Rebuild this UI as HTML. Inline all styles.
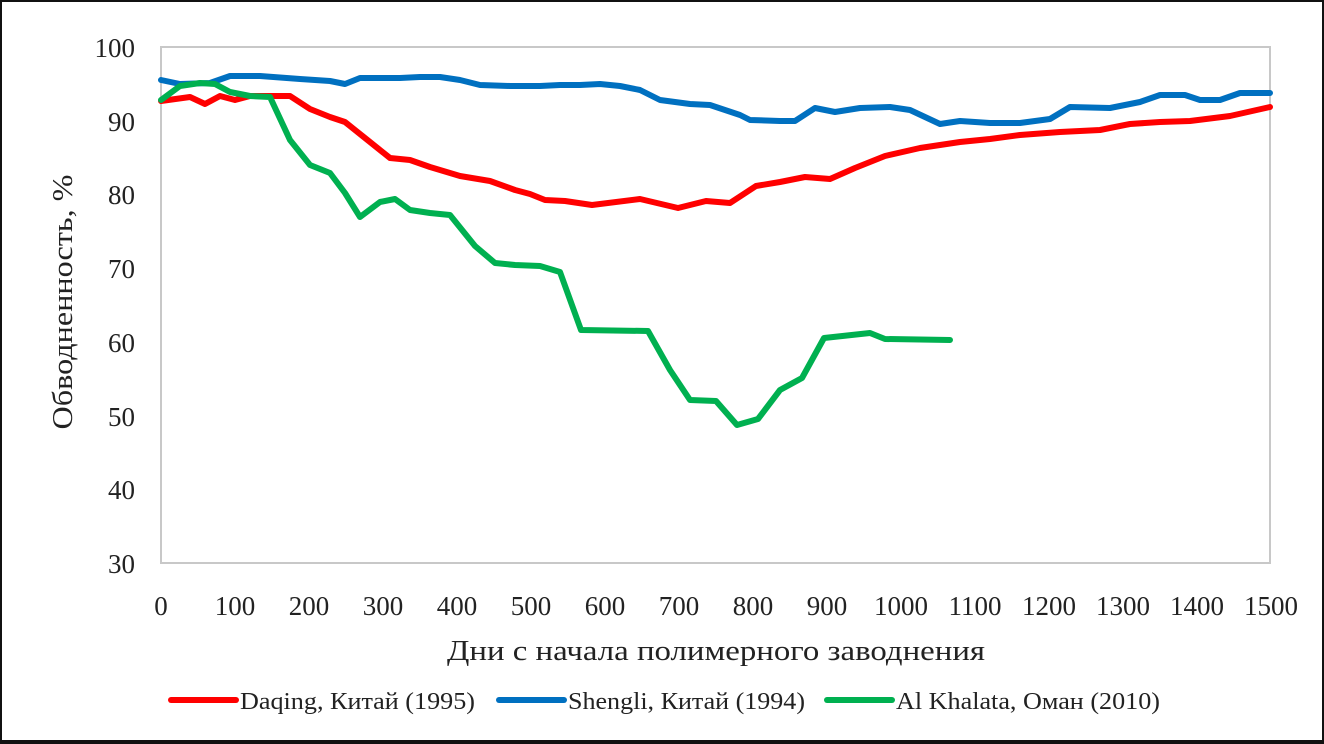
<!DOCTYPE html>
<html><head><meta charset="utf-8"><style>
html,body{margin:0;padding:0;background:#fff}
svg{display:block}
text{font-family:"Liberation Serif",serif;fill:#222}
</style></head><body>
<svg width="1324" height="744" viewBox="0 0 1324 744" xmlns="http://www.w3.org/2000/svg">
<rect x="1" y="1" width="1322" height="741" fill="#fff" stroke="#111" stroke-width="2"/>
<line x1="0" y1="742" x2="1324" y2="742" stroke="#111" stroke-width="4"/>
<rect x="161" y="47" width="1109" height="516" fill="none" stroke="#c8c8c8" stroke-width="2"/>
<g font-size="27" text-anchor="end">
<text x="135" y="57">100</text><text x="135" y="131">90</text><text x="135" y="204">80</text>
<text x="135" y="278">70</text><text x="135" y="352">60</text><text x="135" y="426">50</text>
<text x="135" y="499">40</text><text x="135" y="573">30</text>
</g>
<g font-size="27" text-anchor="middle">
<text x="161" y="615">0</text><text x="235" y="615">100</text><text x="309" y="615">200</text>
<text x="383" y="615">300</text><text x="457" y="615">400</text><text x="531" y="615">500</text>
<text x="605" y="615">600</text><text x="679" y="615">700</text><text x="753" y="615">800</text>
<text x="827" y="615">900</text><text x="901" y="615">1000</text><text x="975" y="615">1100</text>
<text x="1049" y="615">1200</text><text x="1123" y="615">1300</text><text x="1197" y="615">1400</text>
<text x="1271" y="615">1500</text>
</g>
<text x="447" y="660" font-size="29" textLength="538" lengthAdjust="spacingAndGlyphs">Дни с начала полимерного заводнения</text>
<text transform="translate(72,302) rotate(-90)" font-size="29" text-anchor="middle" textLength="255" lengthAdjust="spacingAndGlyphs">Обводненность, %</text>
<g fill="none" stroke-width="6" stroke-linejoin="round" stroke-linecap="round">
<polyline stroke="#0070c0" points="161,80 180,84 210,83 230,76 260,76 300,79 330,81 345,84 360,78 400,78 420,77 440,77 460,80 480,85 510,86 540,86 560,85 580,85 600,84 620,86 640,90 660,100 690,104 710,105 740,115 750,120 780,121 795,121 815,108 835,112 860,108 890,107 910,110 940,124 960,121 990,123 1020,123 1050,119 1070,107 1110,108 1140,102 1160,95 1185,95 1200,100 1220,100 1240,93 1270,93"/>
<polyline stroke="#ff0000" points="161,101 190,97 205,104 220,96 235,100 250,96 270,96 290,96 310,109 330,117 345,122 365,138 390,158 410,160 430,167 460,176 490,181 515,190 530,194 545,200 565,201 592,205 640,199 678,208 706,201 730,203 756,186 780,182 805,177 830,179 855,168 885,156 920,148 960,142 990,139 1020,135 1060,132 1100,130 1130,124 1160,122 1190,121 1230,116 1270,107"/>
<polyline stroke="#00b050" points="161,100 180,86 200,83 215,84 230,92 250,96 270,97 290,140 310,165 330,173 345,193 360,217 380,202 395,199 410,210 430,213 450,215 475,246 495,263 515,265 540,266 560,272 581,330 648,331 670,370 690,400 716,401 737,425 758,419 780,390 802,378 824,338 870,333 885,339 950,340"/>
</g>
<g font-size="24">
<line x1="171" y1="700" x2="236" y2="700" stroke="#ff0000" stroke-width="6" stroke-linecap="round"/>
<text x="240" y="709" textLength="235" lengthAdjust="spacingAndGlyphs">Daqing, Китай (1995)</text>
<line x1="499" y1="700" x2="564" y2="700" stroke="#0070c0" stroke-width="6" stroke-linecap="round"/>
<text x="568" y="709" textLength="237" lengthAdjust="spacingAndGlyphs">Shengli, Китай (1994)</text>
<line x1="827" y1="700" x2="892" y2="700" stroke="#00b050" stroke-width="6" stroke-linecap="round"/>
<text x="896" y="709" textLength="264" lengthAdjust="spacingAndGlyphs">Al Khalata, Оман (2010)</text>
</g>
</svg>
</body></html>
